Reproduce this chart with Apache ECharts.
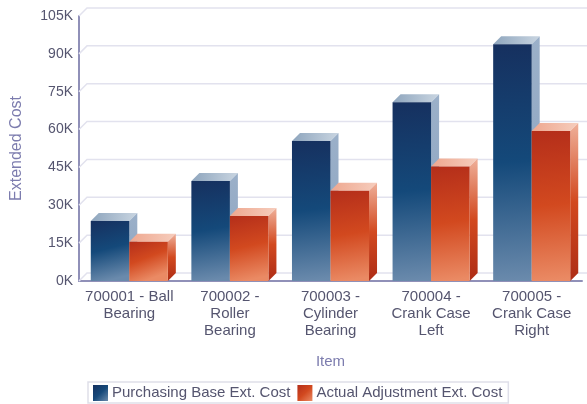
<!DOCTYPE html>
<html><head><meta charset="utf-8">
<style>html,body{margin:0;padding:0;background:#fff}#c{width:587px;height:404px;filter:blur(0.35px)}</style>
<script src="https://cdn.jsdelivr.net/npm/echarts@6/dist/echarts.min.js"></script>
</head><body><div id="c"></div>
<script>
const categories = ['700001 - Ball\nBearing','700002 -\nRoller\nBearing','700003 -\nCylinder\nBearing','700004 -\nCrank Case\nLeft','700005 -\nCrank Case\nRight'];
const baseCost = [23800,39600,55500,70800,93800];
const adjustmentCost = [15600,25800,35800,45400,59400];
const yTicks = [0,15000,30000,45000,60000,75000,90000,105000];
const DEPTH = 8;
const lg = (x,y,x2,y2,stops)=>new echarts.graphic.LinearGradient(x,y,x2,y2,stops.map((c,i)=>({offset:i/(stops.length-1),color:c})));
const palettes = {
  blue:{front:['#16305f','#14497a','#6a8aac'],side:['#9bb0c9','#8ba3bf'],top:['#8ea5bd','#c9d5e1'],swatch:['#14305f','#16497a','#6a8aac']},
  red:{front:['#b42e1a','#d2491f','#ea8a64'],side:['#efb09a','#d2491f','#ad2c15'],top:['#eea78f','#f6cdbd'],swatch:['#b42e1a','#d2491f','#ea8a64']}
};
function barRender(pal,offset){
  return function(params,api){
    const idx=api.value(0), v=api.value(1);
    const band=api.size([1,0])[0], w=band*0.383;
    const p=api.coord([idx,v]), b=api.coord([idx,0]);
    const l=p[0]+(offset<0?-w:0), r=l+w, t=p[1], y0=b[1], d=DEPTH;
    return {type:'group',children:[
      {type:'polygon',shape:{points:[[l,t],[l+d,t-d],[r+d,t-d],[r,t]]},style:{fill:lg(0,0,1,0,pal.top)},silent:true},
      {type:'polygon',shape:{points:[[r,t],[r+d,t-d],[r+d,y0-d],[r,y0]]},style:{fill:lg(0,0,0,1,pal.side)},silent:true},
      {type:'rect',shape:{x:l,y:t,width:w,height:y0-t},style:{fill:lg(0,0,0.4,1,pal.front)},silent:true}
    ]};
  };
}
function wallRender(params,api){
  const v=api.value(0), y=api.coord([0,v])[1], cs=params.coordSys;
  const L=cs.x, R=cs.x+cs.width+DEPTH;
  return {type:'polyline',shape:{points:[[L,y],[L+DEPTH,y-DEPTH],[R,y-DEPTH]]},
    style:{stroke:'#e2e2ee',lineWidth:1.5,fill:null},silent:true};
}
const textColor='#55556f';
const chart=echarts.init(document.getElementById('c'),null,{renderer:'canvas'});
chart.setOption({
  animation:false,
  backgroundColor:'#ffffff',
  grid:{left:79,right:5,top:16,bottom:123},
  legend:{
    left:88,top:382,padding:[3,6,2,5],itemWidth:15,itemHeight:16,itemGap:7,
    borderColor:'#dfdfe9',borderWidth:1.5,backgroundColor:'#fff',
    textStyle:{color:textColor,fontFamily:'Liberation Sans',fontSize:15,padding:[0,0,0,-1]},
    data:[
      {name:'Purchasing Base Ext. Cost',icon:'rect',itemStyle:{color:lg(0,0,1,1,palettes.blue.swatch)}},
      {name:'Actual Adjustment Ext. Cost',icon:'rect',itemStyle:{color:lg(0,0,1,1,palettes.red.swatch)}}
    ]
  },
  xAxis:{type:'category',data:categories,
    name:'Item',nameLocation:'middle',nameGap:73,
    nameTextStyle:{color:'#7c7cae',fontFamily:'Liberation Sans',fontSize:15},
    axisTick:{show:false},
    axisLine:{lineStyle:{color:'#9090b8',width:2}},
    axisLabel:{color:textColor,fontFamily:'Liberation Sans',fontSize:15,lineHeight:17,margin:7,interval:0},
    splitLine:{show:false}},
  yAxis:{type:'value',min:0,max:105000,interval:15000,
    name:'Extended Cost',nameLocation:'middle',nameGap:54,
    nameTextStyle:{color:'#7c7cae',fontFamily:'Liberation Sans',fontSize:16},
    axisLine:{show:true,lineStyle:{color:'#9090b8',width:2}},
    axisTick:{show:false},splitLine:{show:false},
    axisLabel:{color:textColor,fontFamily:'Liberation Sans',fontSize:14,margin:6,formatter:v=>(v/1000)+'K'}},
  series:[
    {type:'custom',name:'wall',z:1,clip:false,renderItem:wallRender,data:yTicks.map(v=>[v]),encode:{y:0},tooltip:{show:false}},
    {type:'custom',name:'Purchasing Base Ext. Cost',z:2,clip:false,renderItem:barRender(palettes.blue,-1),
      data:baseCost.map((v,i)=>[i,v]),encode:{x:0,y:1}},
    {type:'custom',name:'Actual Adjustment Ext. Cost',z:3,clip:false,renderItem:barRender(palettes.red,1),
      data:adjustmentCost.map((v,i)=>[i,v]),encode:{x:0,y:1}}
  ]
});
</script></body></html>
